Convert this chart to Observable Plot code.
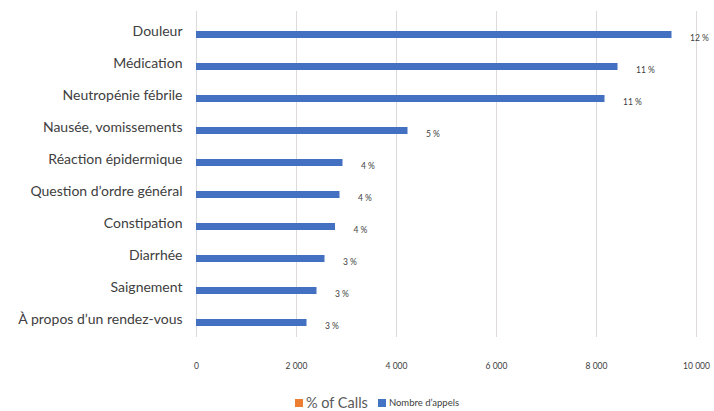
<!DOCTYPE html>
<html>
<head>
<meta charset="utf-8">
<script src="https://cdn.jsdelivr.net/npm/d3@7"></script>
<script src="https://cdn.jsdelivr.net/npm/@observablehq/plot@0.6"></script>
<style>
  html, body { margin: 0; padding: 0; background: #fff; }
  #wrap { position: relative; width: 714px; height: 411px; font-family: Lato, "Open Sans", sans-serif; overflow: hidden; }
  #legend { position: absolute; left: 0; top: 393px; width: 754px; height: 20px; display: flex; align-items: center; justify-content: center; color: #595959; line-height: 1; }
  .sw { display: inline-block; width: 8px; height: 8px; margin-right: 3px; }
  .big { font-size: 14.5px; margin-right: 10px; }
  .small { font-size: 9.5px; color: #404040; }
</style>
</head>
<body>
<div id="wrap"><div id="chart"></div><div id="legend"></div></div>
<script>
// Call reasons, number of calls and share of all calls
const categories = [
  "Douleur",
  "Médication",
  "Neutropénie fébrile",
  "Nausée, vomissements",
  "Réaction épidermique",
  "Question d’ordre général",
  "Constipation",
  "Diarrhée",
  "Saignement",
  "À propos d’un rendez-vous"
];
const calls = [9510, 8430, 8170, 4230, 2930, 2870, 2780, 2570, 2410, 2210];
const percents = [12, 11, 11, 5, 4, 4, 4, 3, 3, 3];
const xTicks = [0, 2000, 4000, 6000, 8000, 10000];
const legendLabels = ["% of Calls", "Nombre d’appels"];
const legendColors = ["#ED7D31", "#4472C4"];

const rows = categories.map((c, i) => ({reason: c, calls: calls[i], pct: percents[i]}));
const fr = d3.formatLocale({decimal: ",", thousands: " ", grouping: [3], currency: ["", " €"]});
const fmt = fr.format(",");

const chart = Plot.plot({
  width: 714,
  height: 390,
  marginLeft: 196,
  marginRight: 18,
  marginTop: 16,
  marginBottom: 48,
  style: {fontFamily: "Lato, 'Open Sans', sans-serif", color: "#404040", background: "transparent"},
  x: {domain: [0, 10000]},
  y: {domain: categories, paddingInner: 0.77, paddingOuter: 0.385},
  marks: [
    Plot.ruleX(xTicks, {stroke: "#dedad9", strokeWidth: 1, insetTop: -5, insetBottom: 5}),
    Plot.barX(rows, {x: "calls", y: "reason", fill: "#4470C2"}),
    Plot.text(rows, {x: "calls", y: "reason", text: d => d.pct + " %", dx: 18, dy: 3, textAnchor: "start", fontSize: 8.5, fill: "#404040"}),
    Plot.axisX(xTicks, {tickSize: 0, tickPadding: 20, tickFormat: fmt, fontSize: 8.5, fill: "#404040", label: null}),
    Plot.axisY({tickSize: 0, tickPadding: 14, fontSize: 14, dy: -3, fill: "#404040", label: null})
  ]
});
document.getElementById("chart").appendChild(chart);

// Legend below the chart
const legend = document.getElementById("legend");
legendLabels.forEach((label, i) => {
  const sw = document.createElement("span");
  sw.className = "sw";
  sw.style.background = legendColors[i];
  const t = document.createElement("span");
  t.className = i === 0 ? "big" : "small";
  t.textContent = label;
  legend.appendChild(sw);
  legend.appendChild(t);
});
</script>
</body>
</html>
